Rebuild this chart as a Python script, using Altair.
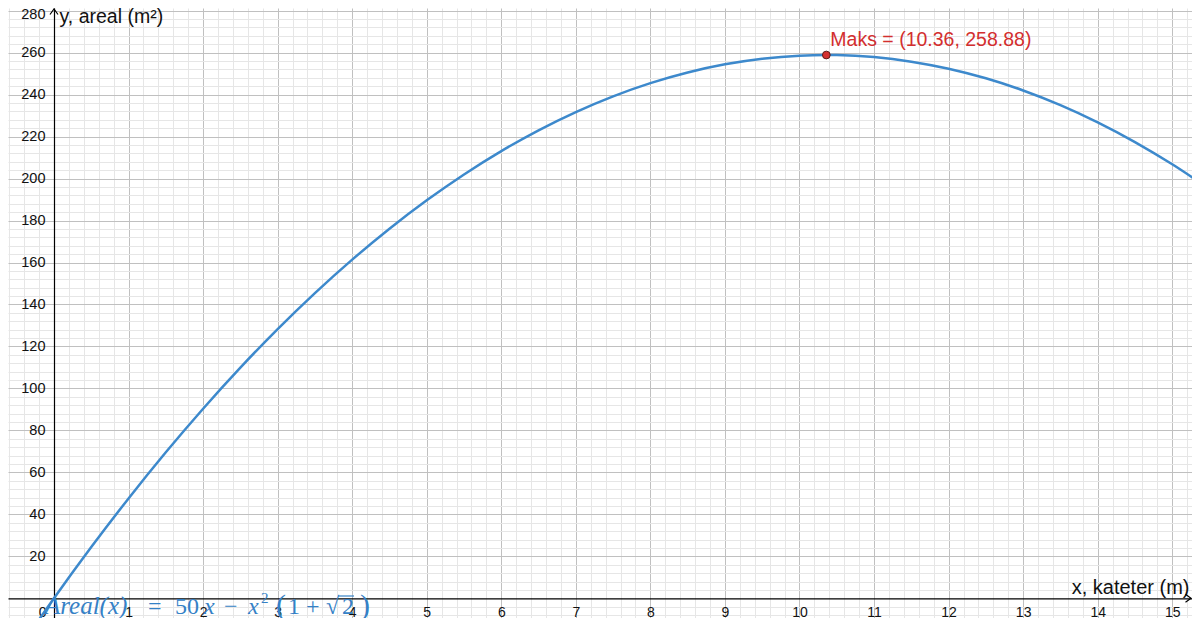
import altair as alt
import pandas as pd

# ---- data ----
curve_x = [-0.4, 0.0, 0.5, 1.0, 1.5, 2.0, 2.5, 3.0, 3.5, 4.0, 4.5, 5.0, 5.5, 6.0, 6.5,
           7.0, 7.5, 8.0, 8.5, 9.0, 9.5, 10.0, 10.36, 10.5, 11.0, 11.5, 12.0, 12.5,
           13.0, 13.5, 14.0, 14.5, 15.0, 15.5]
curve_y = [-20.39, 0.0, 24.40, 47.59, 69.57, 90.34, 109.91, 128.27, 145.43, 161.37,
           176.11, 189.64, 201.97, 213.09, 223.00, 231.70, 239.20, 245.49, 250.57,
           254.45, 257.12, 258.58, 258.88, 258.83, 257.88, 255.72, 252.35, 247.78,
           241.99, 235.01, 226.81, 217.41, 206.80, 194.99]
max_x = 10.36
max_y = 258.88

x_major = list(range(0, 16))
y_major = list(range(20, 281, 20))
x_minor = [round(i * 0.2, 1) for i in range(-3, 77) if i % 5 != 0]
y_minor = [v for v in range(-8, 284, 4) if v % 20 != 0]

x_title = "x, kateter (m)"
y_title = "y, areal (m²)"

# formula label pieces
formula_pieces = ["Areal(x)", "=", "50", "x", "−", "x", "2", "(", "1", "+", "√", "2", ")"]

# ---- layout ----
W, H = 1184, 610
X_DOMAIN = [-0.617, 15.265]
Y_DOMAIN = [-9.39, 281.28]
SANS = "Liberation Sans"
SERIF = "Liberation Serif"
BLUE = "#3d89cc"
TBLUE = "#3581c6"
RED = "#d32f2f"

xs = alt.Scale(domain=X_DOMAIN, nice=False, zero=False)
ys = alt.Scale(domain=Y_DOMAIN, nice=False, zero=False)

curve_df = pd.DataFrame({"x": curve_x, "y": curve_y})
max_df = pd.DataFrame({"x": [max_x], "y": [max_y],
                       "label": [f"Maks = ({max_x:.2f}, {max_y:.2f})"]})

minor_x_axis = alt.Axis(values=x_minor, orient="bottom", grid=True, gridColor="#e6e6e6",
                        gridWidth=1, domain=False, ticks=False, labels=False, title=None)
minor_y_axis = alt.Axis(values=y_minor, orient="left", grid=True, gridColor="#e6e6e6",
                        gridWidth=1, domain=False, ticks=False, labels=False, title=None)

major_x_axis = alt.Axis(
    values=x_major, orient="bottom", offset=-19.7,
    grid=True, gridColor="#c0c0c0", gridWidth=1,
    domain=True, domainColor="#000000", domainWidth=1.2,
    ticks=False, labelPadding=7, labelFont=SANS, labelFontSize=14, labelColor="#111111",
    labelBaseline="top", labelFlush=False, labelOverlap=False,
    labelAlign={"condition": {"test": "datum.value == 0", "value": "right"}, "value": "center"},
    labelOffset={"condition": {"test": "datum.value == 0", "value": -8}, "value": 0},
    title=x_title, titleFont=SANS, titleFontSize=20, titleFontWeight="normal",
    titleColor="#111111", titleAlign="right", titleBaseline="alphabetic",
    titleAngle=0, titleX=1181, titleY=-4.5,
)
major_y_axis = alt.Axis(
    values=y_major, orient="left", offset=-46,
    grid=True, gridColor="#c0c0c0", gridWidth=1,
    domain=True, domainColor="#000000", domainWidth=1.2,
    ticks=False, labelPadding=9, labelFont=SANS, labelFontSize=14.5, labelColor="#111111",
    labelAlign="right", labelBaseline="middle", labelFlush=False, labelOverlap=False,
    labelOffset={"condition": {"test": "datum.value == 280", "value": 4}, "value": 0},
    title=y_title, titleFont=SANS, titleFontSize=19.5, titleFontWeight="normal",
    titleColor="#111111", titleAlign="left", titleBaseline="alphabetic",
    titleAngle=0, titleX=5, titleY=14.5,
)

curve = alt.Chart(curve_df).mark_line(
    color=BLUE, strokeWidth=2.5, interpolate="monotone", clip=True
).encode(
    x=alt.X("x:Q", scale=xs, axis=minor_x_axis),
    y=alt.Y("y:Q", scale=ys, axis=minor_y_axis),
)

point = alt.Chart(max_df).mark_point(
    filled=True, fill=RED, stroke="#5a1c1c", strokeWidth=1, size=60, opacity=1
).encode(
    x=alt.X("x:Q", scale=xs, axis=major_x_axis),
    y=alt.Y("y:Q", scale=ys, axis=major_y_axis),
)

label = alt.Chart(max_df).mark_text(
    align="left", baseline="alphabetic", dx=4, dy=-9, fontSize=19.5, font=SANS, color=RED
).encode(
    x=alt.X("x:Q", scale=xs, axis=None),
    y=alt.Y("y:Q", scale=ys, axis=None),
    text="label:N",
)

one = pd.DataFrame({"k": [0]})
BASE = 606

def ftext(s, px, italic, size=24, py=BASE):
    return alt.Chart(one).mark_text(
        text=s, align="left", baseline="alphabetic", font=SERIF, fontSize=size,
        fontStyle="italic" if italic else "normal", color=TBLUE
    ).encode(x=alt.value(px), y=alt.value(py))

p = formula_pieces
formula = [
    ftext(p[0], 37, True, 25),
    ftext(p[1], 140, False, 24),
    ftext(p[2], 167, False, 24),
    ftext(p[3], 196, True, 24),
    ftext(p[4], 216, False, 24),
    ftext(p[5], 240, True, 24),
    ftext(p[6], 253, False, 15, BASE - 11),
    ftext(p[7], 268, False, 30, BASE + 1),
    ftext(p[8], 280, False, 24),
    ftext(p[9], 298, False, 24),
    ftext(p[10], 318, False, 24),
    ftext(p[11], 334, False, 24),
    ftext(p[12], 352, False, 30, BASE + 1),
]
overline = alt.Chart(one).mark_rule(color=TBLUE, strokeWidth=1.2).encode(
    x=alt.value(330), x2=alt.value(346), y=alt.value(BASE - 18)
)

arrow_y = alt.Chart(one).mark_point(
    shape="M-0.8,1.1L0,0L0.8,1.1", filled=False, stroke="#000000", strokeWidth=1.2,
    size=100, opacity=1
).encode(x=alt.value(46), y=alt.value(1))
arrow_x = alt.Chart(one).mark_point(
    shape="M-1.1,-0.8L0,0L-1.1,0.8", filled=False, stroke="#000000", strokeWidth=1.2,
    size=100, opacity=1
).encode(x=alt.value(1183), y=alt.value(590.3))

chart = alt.layer(curve, point, label, *formula, overline, arrow_y, arrow_x).resolve_axis(
    x="independent", y="independent"
).properties(
    width=W, height=H, padding=0, autosize="none", background="white"
).configure_view(stroke=None)

chart.save("out.html", embed_options={"renderer": "svg", "actions": False})
